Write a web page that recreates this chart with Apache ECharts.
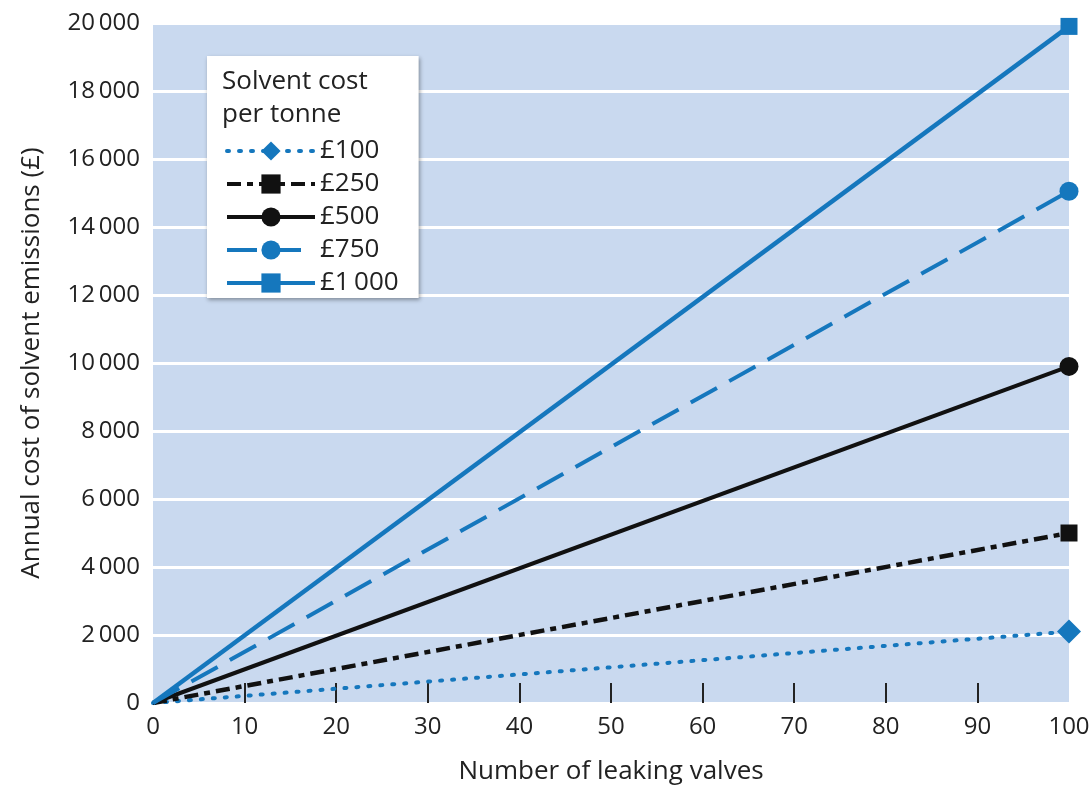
<!DOCTYPE html>
<html><head><meta charset="utf-8">
<script src="https://cdn.jsdelivr.net/npm/echarts@6/dist/echarts.min.js"></script>
<style>html,body{margin:0;padding:0;background:#fff}#c{width:1091px;height:788px}</style>
</head><body><div id="c"></div>
<script>
var valves = [0, 100];
var seriesNames = ['£100', '£250', '£500', '£750', '£1\u2009000'];
var cost100 = [0, 2100];
var cost250 = [0, 5000];
var cost500 = [0, 9900];
var cost750 = [0, 15050];
var cost1000 = [0, 19900];
var xTicks = [10, 20, 30, 40, 50, 60, 70, 80, 90];

var FONT = '"Open Sans", "Noto Sans", sans-serif';
var BLUE = '#1577bd';
var BLACK = '#111';
var TXT = '#222';

function pts(arr) { return valves.map(function (x, i) { return [x, arr[i]]; }); }
function endSize(s) { return function (v) { return v[0] === 0 ? 0 : s; }; }

function fmt(v) {
  return String(v).replace(/\B(?=(\d{3})+(?!\d))/g, '\u2009');
}

var chart = echarts.init(document.getElementById('c'));
chart.setOption({
  animation: false,
  textStyle: { fontFamily: FONT },
  grid: { left: 153, right: 22, top: 23, bottom: 85, show: true, backgroundColor: '#c9d9ef', borderWidth: 0,
          containLabel: false, outerBoundsMode: 'none' },
  xAxis: {
    type: 'value', min: 0, max: 100, interval: 10,
    name: 'Number of leaking valves', nameLocation: 'middle', nameGap: 56,
    nameTextStyle: { fontSize: 26, color: TXT, fontFamily: FONT },
    axisLine: { show: false },
    axisTick: { show: true, inside: true, length: 20, customValues: xTicks, lineStyle: { color: TXT, width: 2 } },
    axisLabel: { fontSize: 24, color: TXT, margin: 12, fontFamily: FONT },
    splitLine: { show: false }
  },
  yAxis: {
    type: 'value', min: 0, max: 20000, interval: 2000,
    name: 'Annual cost of solvent emissions (£)', nameLocation: 'middle', nameGap: 108, nameRotate: 90,
    nameTextStyle: { fontSize: 26, color: TXT, fontFamily: FONT },
    axisLine: { show: false }, axisTick: { show: false },
    axisLabel: { fontSize: 24, color: TXT, margin: 13, fontFamily: FONT, formatter: fmt },
    splitLine: { show: true, lineStyle: { color: '#ffffff', width: 3 } }
  },
  legend: {
    orient: 'vertical', left: 207, top: 56,
    padding: [82, 20, 2, 18],
    itemWidth: 88, itemHeight: 24, itemGap: 7,
    backgroundColor: '#fff',
    shadowColor: 'rgba(0,0,0,0.35)', shadowBlur: 4, shadowOffsetY: 2, shadowOffsetX: 1,
    lineStyle: { width: 4 },
    textStyle: { fontSize: 26, color: TXT, fontFamily: FONT },
    data: seriesNames
  },
  graphic: [{
    type: 'text', left: 222, top: 65, z: 100,
    style: { text: 'Solvent cost\nper tonne', fontSize: 26, lineHeight: 33, fill: TXT, fontFamily: FONT }
  }],
  series: [
    { name: seriesNames[0], type: 'line', data: pts(cost100), symbol: 'diamond', symbolSize: endSize(24),
      lineStyle: { color: BLUE, width: 4, type: [2, 10], cap: 'round' }, itemStyle: { color: BLUE } },
    { name: seriesNames[1], type: 'line', data: pts(cost250), symbol: 'rect', symbolSize: endSize(17),
      lineStyle: { color: BLACK, width: 4.5, type: [14, 6, 6, 6] }, itemStyle: { color: BLACK } },
    { name: seriesNames[2], type: 'line', data: pts(cost500), symbol: 'circle', symbolSize: endSize(19),
      lineStyle: { color: BLACK, width: 4 }, itemStyle: { color: BLACK } },
    { name: seriesNames[3], type: 'line', data: pts(cost750), symbol: 'circle', symbolSize: endSize(19),
      lineStyle: { color: BLUE, width: 4, type: [30, 14] }, itemStyle: { color: BLUE } },
    { name: seriesNames[4], type: 'line', data: pts(cost1000), symbol: 'rect', symbolSize: endSize(17),
      lineStyle: { color: BLUE, width: 4.5 }, itemStyle: { color: BLUE } }
  ]
});
</script></body></html>
